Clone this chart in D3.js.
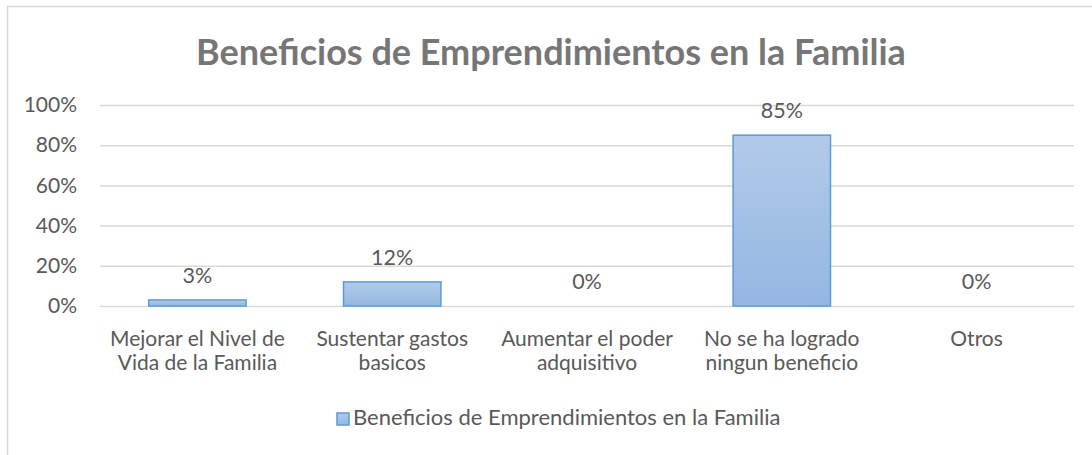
<!DOCTYPE html>
<html>
<head>
<meta charset="utf-8">
<script src="https://cdn.jsdelivr.net/npm/d3@7"></script>
<style>
  body { margin: 0; background: #fff; }
  svg { display: block; }
</style>
</head>
<body>
<svg width="1092" height="455"></svg>
<script>
// data
const title = 'Beneficios de Emprendimientos en la Familia';
const seriesName = 'Beneficios de Emprendimientos en la Familia';
const categoryLines = [
  ['Mejorar el Nivel de', 'Vida de la Familia'],
  ['Sustentar gastos', 'basicos'],
  ['Aumentar el poder', 'adquisitivo'],
  ['No se ha logrado', 'ningun beneficio'],
  ['Otros']
];
const categories = categoryLines.map(l => l.join(' '));
const values = [0.03, 0.12, 0.00, 0.85, 0.00];
const yTicks = [0, 0.2, 0.4, 0.6, 0.8, 1.0];

const font = 'Lato, "Open Sans", sans-serif';
const textColor = '#595959';
const gridColor = '#d9d9d9';
const labelSize = 21;

const svg = d3.select('svg');

const defs = svg.append('defs');
const grad = defs.append('linearGradient')
    .attr('id', 'barGrad')
    .attr('x1', 0).attr('y1', 0).attr('x2', 0).attr('y2', 1);
grad.append('stop').attr('offset', '0%').attr('stop-color', '#b1cae9');
grad.append('stop').attr('offset', '100%').attr('stop-color', '#94b7e2');

// chart area border
svg.append('rect')
    .attr('x', 7.5).attr('y', 6.5)
    .attr('width', 1100).attr('height', 460)
    .attr('fill', '#fff')
    .attr('stroke', gridColor)
    .attr('stroke-width', 1.5);

svg.append('text')
    .attr('x', 551).attr('y', 65)
    .attr('text-anchor', 'middle')
    .attr('font-family', font)
    .attr('font-weight', 'bold')
    .attr('font-size', 36)
    .attr('fill', '#767676')
    .text(title);

const x = d3.scaleBand()
    .domain(categories)
    .range([100, 1074])
    .paddingInner(0.5)
    .paddingOuter(0.25);

const y = d3.scaleLinear()
    .domain([0, 1])
    .range([306, 105]);

// y axis + gridlines
const yAxisG = svg.append('g')
    .attr('transform', 'translate(100,0)')
    .call(d3.axisLeft(y)
        .tickValues(yTicks)
        .tickFormat(d3.format('.0%'))
        .tickSize(-974)
        .tickPadding(23));
yAxisG.select('.domain').remove();
yAxisG.selectAll('.tick line')
    .attr('stroke', gridColor)
    .attr('stroke-width', 1.5);
yAxisG.selectAll('.tick text')
    .attr('font-family', font)
    .attr('font-size', 21)
    .attr('fill', textColor);

// x axis labels, two lines each
const xAxisG = svg.append('g')
    .attr('transform', 'translate(0,306)')
    .call(d3.axisBottom(x).tickSize(0).tickPadding(0));
xAxisG.select('.domain').remove();
xAxisG.selectAll('.tick text').each(function(d, i) {
  const t = d3.select(this)
      .attr('font-family', font)
      .attr('font-size', labelSize)
      .attr('fill', textColor)
      .attr('dy', null)
      .attr('y', 0)
      .text(null);
  categoryLines[i].forEach((line, j) => {
    t.append('tspan')
        .attr('x', 0)
        .attr('y', 40 + j * 24)
        .text(line);
  });
});

// bars
svg.append('g')
  .selectAll('rect')
  .data(values)
  .join('rect')
    .attr('x', (d, i) => x(categories[i]))
    .attr('y', d => y(d))
    .attr('width', x.bandwidth())
    .attr('height', d => y(0) - y(d))
    .attr('fill', 'url(#barGrad)')
    .attr('stroke', d => d > 0 ? '#5b9bd5' : 'none')
    .attr('stroke-width', 1.5);

// data labels
svg.append('g')
  .selectAll('text')
  .data(values)
  .join('text')
    .attr('x', (d, i) => x(categories[i]) + x.bandwidth() / 2)
    .attr('y', d => y(d) - 17)
    .attr('text-anchor', 'middle')
    .attr('font-family', font)
    .attr('font-size', 21.5)
    .attr('fill', textColor)
    .text(d => d3.format('.0%')(d));

// legend, centred under the plot
const legend = svg.append('g');
legend.append('rect')
    .attr('width', 12).attr('height', 12)
    .attr('fill', 'url(#barGrad)')
    .attr('stroke', '#5b9bd5')
    .attr('stroke-width', 1.5);
const legendText = legend.append('text')
    .attr('x', 16).attr('y', 12)
    .attr('font-family', font)
    .attr('font-size', 22)
    .attr('fill', textColor)
    .text(seriesName);
const legendW = 16 + legendText.node().getComputedTextLength();
legend.attr('transform', `translate(${Math.round(559 - legendW / 2)},413)`);
</script>
</body>
</html>
